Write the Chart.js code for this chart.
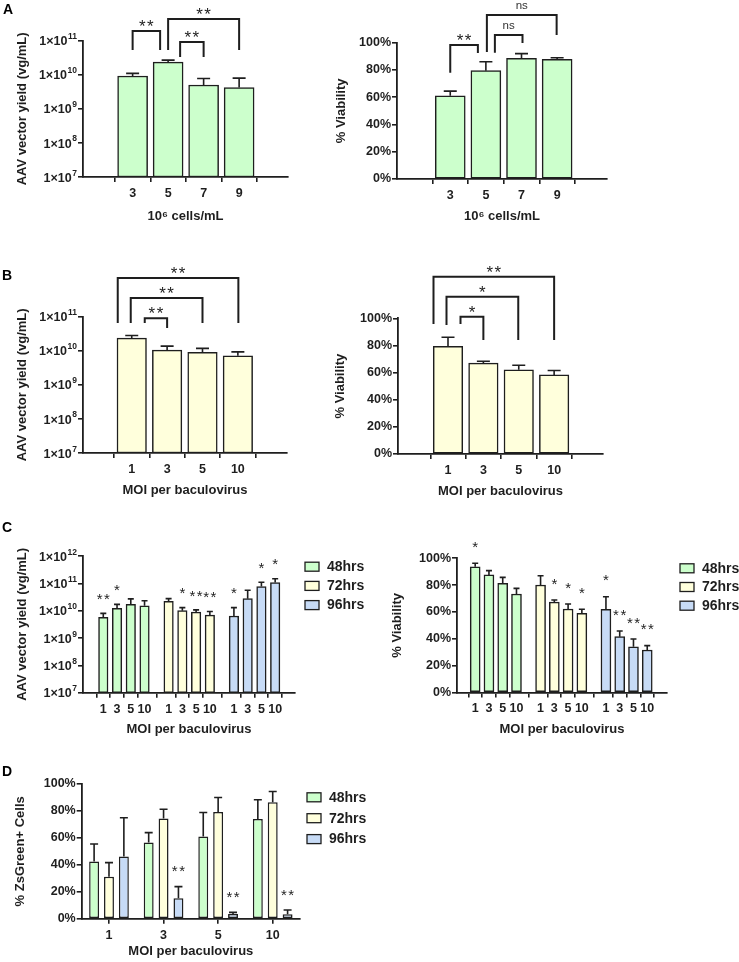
<!DOCTYPE html>
<html><head><meta charset="utf-8">
<script src="https://cdn.jsdelivr.net/npm/chart.js@4"></script>
<style>
html,body{margin:0;padding:0;background:#fff;}
#wrap{position:relative;width:739px;height:962px;overflow:hidden;background:#fff;}
canvas{position:absolute;}
</style></head><body><div id="wrap">
<canvas id="aL"></canvas><canvas id="aR"></canvas>
<canvas id="bL"></canvas><canvas id="bR"></canvas>
<canvas id="cL"></canvas><canvas id="cR"></canvas>
<canvas id="dL"></canvas>
</div>
<script>
// ---------------- DATA ----------------
const densityLabels = ['3', '5', '7', '9'];
const densityYield = [9.2e9, 2.35e10, 5.0e9, 4.2e9];
const densityYieldSD = [1.8e9, 3.5e9, 2.8e9, 3.8e9];
const densityViability = [61.1, 79.5, 88.5, 87.8];
const densityViabilitySD = [3.4, 6.5, 3.5, 1.2];
const densityYieldSig = ['**', '**', '**'];      // 5 vs 3, 5 vs 7, 5 vs 9
const densityViabilitySig = ['**', 'ns', 'ns'];

const moiLabels = ['1', '3', '5', '10'];
const moiYield = [2.35e10, 1.05e10, 9.0e9, 7.1e9];
const moiYieldSD = [4.5e9, 3.2e9, 2.8e9, 2.2e9];
const moiViability = [79.4, 67.0, 62.0, 58.3];
const moiViabilitySD = [6.6, 1.4, 3.4, 3.2];
const moiYieldSig = ['**', '**', '**'];          // 1 vs 3, 1 vs 5, 1 vs 10
const moiViabilitySig = ['*', '*', '**'];

const timeLabels = ['48hrs', '72hrs', '96hrs'];
const yield48 = [5.7e9, 1.22e10, 1.7e10, 1.5e10];
const yield48SD = [2.3e9, 4.8e9, 1.0e10, 8.0e9];
const yield72 = [2.2e10, 1.0e10, 8.8e9, 6.9e9];
const yield72SD = [5.5e9, 2.9e9, 1.9e9, 2.4e9];
const yield96 = [6.4e9, 2.75e10, 7.6e10, 1.07e11];
const yield96SD = [6.5e9, 2.85e10, 3.4e10, 4.0e10];
const yield48Sig = ['**', '*', '', ''];
const yield72Sig = ['', '*', '**', '**'];
const yield96Sig = ['*', '', '*', '*'];

const viab48 = [93.7, 87.6, 81.4, 73.4];
const viab48SD = [2.6, 3.2, 4.4, 4.2];
const viab72 = [80.1, 67.4, 62.2, 59.0];
const viab72SD = [6.9, 1.5, 3.8, 3.0];
const viab96 = [62.0, 41.6, 34.1, 31.7];
const viab96SD = [9.4, 4.2, 5.8, 3.2];
const viab48Sig = ['*', '', '', ''];
const viab72Sig = ['', '*', '*', '*'];
const viab96Sig = ['*', '**', '**', '**'];

const green48 = [42.4, 56.5, 61.0, 74.1];
const green48SD = [13.1, 7.4, 17.8, 14.2];
const green72 = [31.2, 74.3, 79.3, 86.5];
const green72SD = [10.4, 7.0, 10.7, 7.9];
const green96 = [46.1, 15.2, 3.5, 3.3];
const green96SD = [28.9, 8.6, 1.2, 3.2];
const green96Sig = ['', '**', '**', '**'];

// ---------------- STYLE ----------------
const FONT = '"Liberation Sans", Arial, Helvetica, sans-serif';
const INK = '#1e1e1e';
const C48 = '#ccffcc', C72 = '#ffffdc', C96 = '#c7dbf6';
Chart.defaults.font.family = FONT;
Chart.defaults.color = INK;
Chart.defaults.animation = false;

const SUP = {'0':'⁰','1':'¹','2':'²','3':'³','4':'⁴','5':'⁵','6':'⁶','7':'⁷','8':'⁸','9':'⁹'};
const sup = n => String(n).split('').map(c => SUP[c]).join('');

function drawMark(ctx, txt, cx, cy, size) {
  ctx.save();
  ctx.fillStyle = INK;
  ctx.textBaseline = 'alphabetic';
  if (txt === 'ns') {
    ctx.font = `11.5px ${FONT}`;
    ctx.textAlign = 'center';
    ctx.fillStyle = '#333';
    ctx.fillText(txt, cx, cy + 3);
  } else {
    ctx.font = `${size}px ${FONT}`;
    ctx.textAlign = 'left';
    const w = ctx.measureText('*').width, gap = 1.5;
    const total = txt.length * w + (txt.length - 1) * gap;
    let x = cx - total / 2;
    for (const ch of txt) { ctx.fillText(ch, x, cy + size * 0.58); x += w + gap; }
  }
  ctx.restore();
}

const deco = {
  id: 'deco',
  afterDatasetsDraw(chart) {
    const o = chart.options.plugins.deco; if (!o) return;
    const ctx = chart.ctx, ys = chart.scales.y;
    ctx.save();
    ctx.strokeStyle = INK; ctx.lineWidth = 1.6; ctx.lineCap = 'butt';
    chart.data.datasets.forEach((ds, di) => {
      const meta = chart.getDatasetMeta(di);
      meta.data.forEach((el, i) => {
        const raw = ds.data[i];
        const v = (raw && typeof raw === 'object') ? raw.y : raw;
        if (v == null) return;
        const top = ys.getPixelForValue(v + ds.sd[i]);
        ctx.beginPath();
        ctx.moveTo(el.x, el.y); ctx.lineTo(el.x, top);
        ctx.moveTo(el.x - o.cap / 2, top); ctx.lineTo(el.x + o.cap / 2, top);
        ctx.stroke();
        const s = ds.stars && ds.stars[i];
        if (s) drawMark(ctx, s, el.x, top - o.starGap, o.starSize);
      });
    });
    ctx.restore();
  },
  afterDraw(chart) {
    const o = chart.options.plugins.deco; if (!o) return;
    const ctx = chart.ctx, ca = chart.chartArea;
    ctx.save();
    // log-axis tick labels with real superscript exponents
    if (o.logTicks) {
      const ys = chart.scales.y;
      ys.ticks.forEach(t => {
        const y = ys.getPixelForValue(t.value);
        const e = String(Math.round(Math.log10(t.value)));
        const right = ca.left - 6;
        ctx.fillStyle = INK; ctx.textAlign = 'right'; ctx.textBaseline = 'alphabetic';
        ctx.font = `bold 8.5px ${FONT}`;
        const ew = ctx.measureText(e).width;
        ctx.fillText(e, right, y - 1.5);
        ctx.font = `bold 12.5px ${FONT}`;
        ctx.fillText('1×10', right - ew - 0.5, y + 4.6);
      });
    }
    // comparison brackets
    if (o.brackets) {
      const m = chart.getDatasetMeta(0).data;
      ctx.strokeStyle = INK; ctx.lineWidth = 2; ctx.lineJoin = 'miter';
      o.brackets.forEach(br => {
        const xa = m[br.a].x + br.dxa, xb = m[br.b].x + br.dxb, yy = ca.top + br.y;
        ctx.beginPath();
        ctx.moveTo(xa, ca.top + br.la); ctx.lineTo(xa, yy); ctx.lineTo(xb, yy); ctx.lineTo(xb, ca.top + br.lb);
        ctx.stroke();
        drawMark(ctx, br.text, (xa + xb) / 2, yy - 9, o.starSize);
      });
    }
    // legend
    if (o.legend) {
      const L = o.legend;
      chart.data.datasets.forEach((ds, k) => {
        const bx = ca.right + L.dx, cy = ca.top + L.dy + k * L.gap;
        ctx.fillStyle = ds.backgroundColor; ctx.fillRect(bx, cy - 4.5, 14, 9);
        ctx.strokeStyle = INK; ctx.lineWidth = 1.3; ctx.strokeRect(bx, cy - 4.5, 14, 9);
        ctx.fillStyle = INK; ctx.font = `bold 14px ${FONT}`;
        ctx.textAlign = 'left'; ctx.textBaseline = 'middle';
        ctx.fillText(ds.label, bx + 22, cy + 0.5);
      });
    }
    // panel letter
    if (o.panel) {
      ctx.fillStyle = '#000'; ctx.font = `bold 14px ${FONT}`;
      ctx.textAlign = 'left'; ctx.textBaseline = 'alphabetic';
      ctx.fillText(o.panel.t, o.panel.x - o.box.x, o.panel.y - o.box.y);
    }
    ctx.restore();
  }
};

const gridOpt = {drawOnChartArea: false, tickLength: 5, color: INK, lineWidth: 1.6};
const borderOpt = {color: INK, width: 1.8};

function yScale(kind, yW, titleText, titleOff, max) {
  const s = {
    grid: gridOpt, border: borderOpt,
    ticks: {font: {size: 12.5, weight: 'bold'}, color: INK, padding: 1},
    title: {display: true, text: titleText, font: {size: 13, weight: 'bold'}, color: INK, padding: {top: titleOff - 7.8, bottom: 0}},
    afterFit: sc => { sc.width = yW; }
  };
  if (kind === 'log') {
    s.type = 'logarithmic'; s.min = 1e7; s.max = max;
    s.afterBuildTicks = sc => {
      const t = []; for (let e = 7; e <= Math.round(Math.log10(max)); e++) t.push({value: Math.pow(10, e), major: true});
      sc.ticks = t;
    };
    s.ticks.callback = v => '1×10' + sup(Math.round(Math.log10(v)));
    s.ticks.display = false;   // drawn by the deco plugin with true superscripts
  } else {
    s.type = 'linear'; s.min = 0; s.max = 100;
    s.ticks.stepSize = 20;
    s.ticks.callback = v => v + '%';
  }
  return s;
}

function xLin(min, max, pos, labels, xH, title, titleOff) {
  return {
    type: 'linear', min, max,
    afterBuildTicks: sc => { sc.ticks = pos.map(v => ({value: v})); },
    ticks: {autoSkip: false, maxRotation: 0, minRotation: 0, callback: (v, i) => labels[i], font: {size: 12.5, weight: 'bold'}, color: INK, padding: 4},
    grid: gridOpt, border: borderOpt,
    title: {display: true, text: title, font: {size: 13, weight: 'bold'}, color: INK, padding: {top: 0, bottom: titleOff - 7.8}},
    afterFit: sc => { sc.height = xH; }
  };
}

function place(id, box) {
  const cv = document.getElementById(id);
  cv.width = box.w; cv.height = box.h;
  cv.style.left = box.x + 'px'; cv.style.top = box.y + 'px';
  cv.style.width = box.w + 'px'; cv.style.height = box.h + 'px';
  return cv;
}

function geom(box, area) {
  return {
    pad: {top: area.t - box.y, right: box.x + box.w - area.r, left: 0, bottom: 0},
    yW: area.l - box.x, xH: box.y + box.h - area.b
  };
}

function barDS(label, color, xs, vals, sds, stars, thick) {
  return {
    label, backgroundColor: color, borderColor: INK, borderWidth: 1.5, borderSkipped: false,
    data: vals.map((v, i) => ({x: xs[i], y: v})), sd: sds, stars,
    barThickness: thick, maxBarThickness: thick, grouped: false,
    barPercentage: 1, categoryPercentage: 1
  };
}

// simple 4-bar panels (A, B)
function simplePanel(id, box, area, labels, vals, sds, color, yKind, yTitle, yTitleX, xTitle, xTitleY, xmin, xmax, thick, brackets, panel) {
  const cv = place(id, box); const g = geom(box, area);
  const xs = labels.map((_, i) => i);
  new Chart(cv, {
    type: 'bar',
    data: {datasets: [barDS(yTitle, color, xs, vals, sds, null, thick)]},
    options: {
      responsive: false, animation: false,
      layout: {padding: g.pad},
      plugins: {legend: {display: false}, tooltip: {enabled: false},
        deco: {cap: 13, starSize: 17, starGap: 18, brackets, panel, box, logTicks: yKind === 'log'}},
      scales: {
        x: xLin(xmin, xmax, xs, labels, g.xH, xTitle, box.y + box.h - xTitleY),
        y: yScale(yKind, g.yW, yTitle, yTitleX - box.x, 1e11)
      }
    },
    plugins: [deco]
  });
}

// ---- Panel A ----
simplePanel('aL', {x: 0, y: 0, w: 300, h: 228}, {l: 83, r: 288, t: 40.7, b: 177},
  densityLabels, densityYield, densityYieldSD, C48, 'log', 'AAV vector yield (vg/mL)', 22,
  '10' + sup(6) + ' cells/mL', 216.7, -0.676, 3.655, 30,
  [
    {a: 0, b: 1, dxa: 0, dxb: -8, y: -9.7, la: 9.3, lb: 9.3, text: densityYieldSig[0]},
    {a: 1, b: 2, dxa: 12, dxb: 0, y: 1.3, la: 16.3, lb: 16.3, text: densityYieldSig[1]},
    {a: 1, b: 3, dxa: 0, dxb: 0, y: -21.7, la: 9.3, lb: 9.3, text: densityYieldSig[2]}
  ], {t: 'A', x: 3, y: 13.5});
simplePanel('aR', {x: 310, y: 0, w: 310, h: 228}, {l: 397, r: 607, t: 42.7, b: 179},
  densityLabels, densityViability, densityViabilitySD, C48, 'lin', '% Viability', 341.7,
  '10' + sup(6) + ' cells/mL', 216, -0.758, 3.663, 30,
  [
    {a: 0, b: 1, dxa: 0, dxb: -8, y: 2.3, la: 30, lb: 10.3, text: densityViabilitySig[0]},
    {a: 1, b: 2, dxa: 9, dxb: 1, y: -7.7, la: 10, lb: 0.3, text: densityViabilitySig[1]},
    {a: 1, b: 3, dxa: 1, dxb: -0.5, y: -27.7, la: 9.3, lb: -7.7, text: densityViabilitySig[2]}
  ], null);

// ---- Panel B ----
simplePanel('bL', {x: 0, y: 250, w: 300, h: 250}, {l: 83, r: 287, t: 316.7, b: 453},
  moiLabels, moiYield, moiYieldSD, C72, 'log', 'AAV vector yield (vg/mL)', 22,
  'MOI per baculovirus', 490, -0.657, 3.668, 29.5,
  [
    {a: 0, b: 1, dxa: 13, dxb: 0, y: 1.6, la: 6.3, lb: 11.3, text: moiYieldSig[0]},
    {a: 0, b: 2, dxa: -1, dxb: 0, y: -18.7, la: 6.3, lb: 6.3, text: moiYieldSig[1]},
    {a: 0, b: 3, dxa: -14, dxb: 0.5, y: -38.7, la: 6.3, lb: 6.3, text: moiYieldSig[2]}
  ], {t: 'B', x: 2, y: 280});
simplePanel('bR', {x: 310, y: 250, w: 310, h: 250}, {l: 398, r: 603, t: 318.3, b: 454},
  moiLabels, moiViability, moiViabilitySD, C72, 'lin', '% Viability', 340,
  'MOI per baculovirus', 491, -0.689, 3.657, 29.5,
  [
    {a: 0, b: 1, dxa: 12.5, dxb: 0, y: -1.6, la: 5.7, lb: 21.7, text: moiViabilitySig[0]},
    {a: 0, b: 2, dxa: -1.5, dxb: -0.5, y: -21.6, la: 6.7, lb: 21.7, text: moiViabilitySig[1]},
    {a: 0, b: 3, dxa: -14.5, dxb: 0, y: -41.6, la: 5.7, lb: 21.7, text: moiViabilitySig[2]}
  ], null);

// ---- Panel C (grouped by time) ----
const GROUP_STRIDE = 4.75;
function timePanel(id, box, area, series, yKind, yMax, yTitle, yTitleX, xmin, xmax, thick, cap, starGap, legend, panel) {
  const cv = place(id, box); const g = geom(box, area);
  const colors = [C48, C72, C96];
  const pos = [], labs = [];
  const datasets = series.map((s, gi) => {
    const xs = moiLabels.map((_, i) => gi * GROUP_STRIDE + i);
    xs.forEach((x, i) => { pos.push(x); labs.push(moiLabels[i]); });
    return barDS(timeLabels[gi], colors[gi], xs, s.v, s.sd, s.sig, thick);
  });
  new Chart(cv, {
    type: 'bar',
    data: {datasets},
    options: {
      responsive: false, animation: false,
      layout: {padding: g.pad},
      plugins: {legend: {display: false}, tooltip: {enabled: false},
        deco: {cap, starSize: 15, starGap, legend, panel, box, logTicks: yKind === 'log'}},
      scales: {
        x: xLin(xmin, xmax, pos, labs, g.xH, 'MOI per baculovirus', box.y + box.h - 729),
        y: yScale(yKind, g.yW, yTitle, yTitleX - box.x, yMax)
      }
    },
    plugins: [deco]
  });
}
timePanel('cL', {x: 0, y: 520, w: 375, h: 240}, {l: 83, r: 295, t: 556, b: 692.7},
  [{v: yield48, sd: yield48SD, sig: yield48Sig}, {v: yield72, sd: yield72SD, sig: yield72Sig}, {v: yield96, sd: yield96SD, sig: yield96Sig}],
  'log', 1e12, 'AAV vector yield (vg/mL)', 22, -0.833, 13.3, 9.5, 6, 18,
  {dx: 10, dy: 10.7, gap: 19.2}, {t: 'C', x: 2, y: 532});
timePanel('cR', {x: 380, y: 520, w: 359, h: 240}, {l: 457, r: 667, t: 558.3, b: 692.5},
  [{v: viab48, sd: viab48SD, sig: viab48Sig}, {v: viab72, sd: viab72SD, sig: viab72Sig}, {v: viab96, sd: viab96SD, sig: viab96Sig}],
  'lin', 100, '% Viability', 397, -0.686, 13.3, 10, 6, 20,
  {dx: 13, dy: 10, gap: 18.7}, null);

// ---- Panel D (category, grouped) ----
(function () {
  const box = {x: 0, y: 760, w: 380, h: 202}, area = {l: 81.7, r: 300, t: 784, b: 918.7};
  const cv = place('dL', box); const g = geom(box, area);
  const mk = (label, color, v, sd, sig) => ({label, backgroundColor: color, borderColor: INK, borderWidth: 1.5, borderSkipped: false,
    data: v, sd, stars: sig, categoryPercentage: 0.818, barPercentage: 0.667});
  new Chart(cv, {
    type: 'bar',
    data: {labels: moiLabels, datasets: [
      mk(timeLabels[0], C48, green48, green48SD, null),
      mk(timeLabels[1], C72, green72, green72SD, null),
      mk(timeLabels[2], C96, green96, green96SD, green96Sig)
    ]},
    options: {
      responsive: false, animation: false,
      layout: {padding: g.pad},
      plugins: {legend: {display: false}, tooltip: {enabled: false},
        deco: {cap: 8, starSize: 15, starGap: 19, legend: {dx: 7, dy: 13.3, gap: 20.9}, panel: {t: 'D', x: 2, y: 776}, box}},
      scales: {
        x: {
          type: 'category', offset: true,
          grid: Object.assign({}, gridOpt, {offset: false}), border: borderOpt,
          ticks: {font: {size: 12.5, weight: 'bold'}, color: INK, padding: 4, maxRotation: 0},
          title: {display: true, text: 'MOI per baculovirus', font: {size: 13, weight: 'bold'}, color: INK, padding: {top: 0, bottom: (box.y + box.h - 951.7) - 7.8}},
          afterFit: sc => { sc.height = g.xH; }
        },
        y: yScale('lin', g.yW, '% ZsGreen+ Cells', 20 - box.x, 100)
      }
    },
    plugins: [deco]
  });
})();
</script>
</body></html>
